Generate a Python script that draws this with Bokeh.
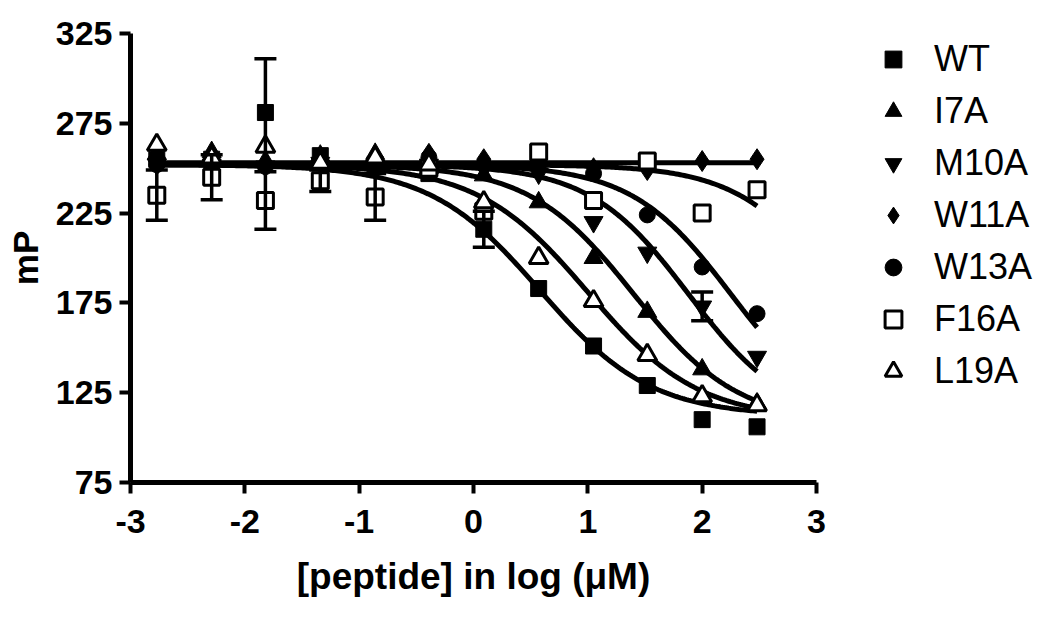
import numpy as np
from bokeh.plotting import figure
from bokeh.models import (ColumnDataSource, Whisker, TeeHead, Legend, LegendItem,
                          FixedTicker, Range1d)
from bokeh.embed import file_html
from bokeh.resources import INLINE

# ---------------- data ----------------
log_conc = [-2.77, -2.29, -1.82, -1.34, -0.86, -0.39, 0.09, 0.57, 1.05, 1.52, 2.00, 2.48]

series_names = ["WT", "I7A", "M10A", "W11A", "W13A", "F16A", "L19A"]

wt   = [255, 255, 281, 257, 252, 247, 216, 183, 151, 129, 110, 106]
i7a  = [258, 259, 254, 257, 258, 250, 246, 231, 200, 170, 138, 119]
m10a = [252, 252, 251, 253, 251, 252, 250, 247, 220, 203, 173, 145]
w11a = [253, 256, 252, 256, 255, 258, 255, 251, 250, 249, 254, 255]
w13a = [252, 252, 251, 254, 253, 256, 252, 252, 247, 224, 195, 169]
f16a = [235, 245, 232, 243, 234, 250, 226, 259, 232, 254, 225, 238]
l19a = [263, 256, 262, 253, 256, 252, 231, 200, 176, 146, 123, 118]

# error bars (SEM) that are visible outside the markers; 0 = hidden
wt_err   = [0, 0, 30, 0, 0, 0, 10, 0, 0, 0, 0, 0]
m10a_err = [0, 0, 0, 0, 0, 0, 0, 0, 0, 0, 8, 0]
f16a_err = [14, 12.5, 16, 6, 13, 0, 0, 0, 0, 0, 0, 0]

# fitted sigmoidal dose-response parameters: top, bottom, logIC50, hill
fit_top     = [252, 252, 252, 253, 252, 252, 252]
fit_bottom  = [112, 108, 108, 253, 108, 108, 110]
fit_logic50 = [0.58, 1.40, 1.88, 0.0, 2.25, 3.20, 1.00]
fit_hill    = [0.90, 0.95, 1.00, 1.0, 1.00, 1.00, 0.90]

y_ticks = [75, 125, 175, 225, 275, 325]
x_ticks = [-3, -2, -1, 0, 1, 2, 3]
x_tick_labels = ["-3", "-2", "-1", "0", "1", "2", "3"]

# ---------------- figure ----------------
FONT = "Liberation Sans"
p = figure(output_backend="svg", toolbar_location=None,
           frame_width=686, frame_height=449,
           min_border_left=130, min_border_top=33, min_border_bottom=125, min_border_right=214,
           x_range=Range1d(-3, 3), y_range=Range1d(75, 325))
p.outline_line_color = None
p.grid.visible = False
p.background_fill_color = "white"

for ax in (p.xaxis[0], p.yaxis[0]):
    ax.axis_line_width = 5
    ax.axis_line_color = "black"
    ax.major_tick_line_width = 4
    ax.major_tick_line_color = "black"
    ax.major_tick_out = 11
    ax.major_tick_in = 0
    ax.minor_tick_line_color = None
    ax.major_label_text_font = FONT
    ax.major_label_text_font_style = "bold"
    ax.major_label_text_font_size = "34px"
    ax.major_label_text_color = "black"
    ax.axis_label_text_font = FONT
    ax.axis_label_text_font_style = "bold"
    ax.axis_label_text_color = "black"

p.xaxis.ticker = FixedTicker(ticks=x_ticks)
p.yaxis.ticker = FixedTicker(ticks=y_ticks)
p.xaxis.major_label_overrides = {t: s for t, s in zip(x_ticks, x_tick_labels)}
p.xaxis.axis_label = "[peptide] in log (\u03bcM)"
p.yaxis.axis_label = "mP"
p.xaxis.axis_label_text_font_size = "37px"
p.yaxis.axis_label_text_font_size = "35px"
p.xaxis.major_label_standoff = 16
p.yaxis.major_label_standoff = 7
p.xaxis.axis_label_standoff = 20
p.yaxis.axis_label_standoff = 8

values = [wt, i7a, m10a, w11a, w13a, f16a, l19a]
errs = {"WT": wt_err, "M10A": m10a_err, "F16A": f16a_err}
markers = ["square", "triangle", "inverted_triangle", "diamond", "circle", "square", "triangle"]
sizes = [16, 19, 19, 21, 16, 16, 19]
fills = ["black", "black", "black", "black", "black", "white", "white"]

# error bars
for name, vals in zip(series_names, values):
    if name in errs:
        e = errs[name]
        xs = [x for x, ee in zip(log_conc, e) if ee > 0]
        ys = [v for v, ee in zip(vals, e) if ee > 0]
        es = [ee for ee in e if ee > 0]
        src = ColumnDataSource(dict(x=xs, lo=[y - ee for y, ee in zip(ys, es)],
                                    hi=[y + ee for y, ee in zip(ys, es)]))
        w = Whisker(source=src, base="x", lower="lo", upper="hi",
                    line_width=3.5, line_color="black",
                    upper_head=TeeHead(size=22, line_width=3.5, line_color="black"),
                    lower_head=TeeHead(size=22, line_width=3.5, line_color="black"),
                    level="glyph")
        p.add_layout(w)

# fitted curves
xc = np.linspace(-2.8, 2.48, 300)
for i in range(len(series_names)):
    top, bot, c, h = fit_top[i], fit_bottom[i], fit_logic50[i], fit_hill[i]
    yc = bot + (top - bot) / (1 + 10 ** ((xc - c) * h))
    p.line(xc, yc, line_width=5, line_color="black")

# markers
items = []
for name, vals, m, s, f in zip(series_names, values, markers, sizes, fills):
    r = p.scatter(log_conc, vals, marker=m, size=s, fill_color=f,
                  line_color="black", line_width=3 if f == "white" else 1)
    items.append(LegendItem(label=name, renderers=[r]))

legend = Legend(items=items, location=(56, 90), margin=0, padding=0,
                border_line_color=None, background_fill_alpha=0,
                glyph_width=42, glyph_height=42, label_height=42,
                label_standoff=20, spacing=10,
                label_text_font=FONT, label_text_font_size="36px",
                label_text_color="black")
p.add_layout(legend, "right")

open("out.html", "w").write(file_html(p, INLINE))
